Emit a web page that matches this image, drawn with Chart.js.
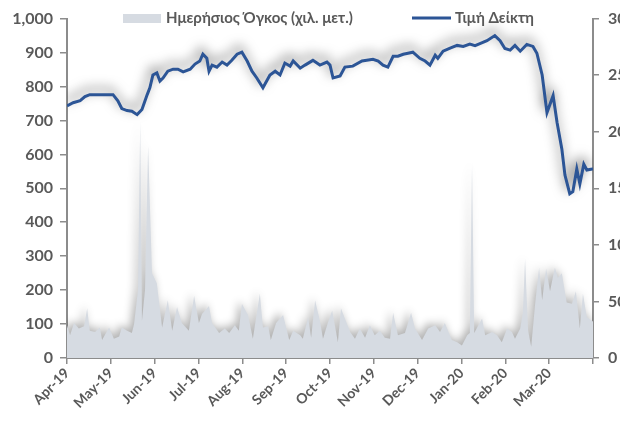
<!DOCTYPE html>
<html>
<head>
<meta charset="utf-8">
<script src="https://cdn.jsdelivr.net/npm/chart.js@4.4.0/dist/chart.umd.min.js"></script>
<style>
  html, body { margin: 0; padding: 0; background: #fff; }
  #chart { display: block; }
</style>
</head>
<body>
<canvas id="chart" width="620" height="421"></canvas>
<script>
// month labels, one per tick (x measured in months since Apr-19)
const monthLabels = ["Apr-19", "May-19", "Jun-19", "Jul-19", "Aug-19", "Sep-19",
  "Oct-19", "Nov-19", "Dec-19", "Jan-20", "Feb-20", "Mar-20", ""];

// index price (left axis)
const priceMonths = [0.00, 0.14, 0.30, 0.41, 0.52, 0.75, 1.05, 1.16, 1.25, 1.37, 1.48, 1.60, 1.71,
  1.83, 1.89, 1.96, 2.05, 2.12, 2.19, 2.30, 2.42, 2.53, 2.65, 2.81, 2.92, 3.03, 3.10, 3.19, 3.24,
  3.31, 3.42, 3.54, 3.65, 3.76, 3.88, 3.99, 4.11, 4.22, 4.33, 4.47, 4.63, 4.75, 4.86, 4.97, 5.09,
  5.16, 5.32, 5.43, 5.61, 5.77, 5.93, 6.00, 6.07, 6.23, 6.34, 6.52, 6.73, 6.98, 7.10, 7.21, 7.32,
  7.44, 7.55, 7.67, 7.78, 7.89, 8.05, 8.17, 8.28, 8.40, 8.46, 8.58, 8.74, 8.90, 9.04, 9.19, 9.31,
  9.42, 9.58, 9.76, 9.88, 9.99, 10.11, 10.22, 10.34, 10.49, 10.63, 10.72, 10.84, 10.95, 11.09,
  11.18, 11.29, 11.36, 11.47, 11.54, 11.63, 11.70, 11.79, 11.86, 11.98, 12.00];
const priceValues = [743, 752, 758, 770, 776, 776, 776, 758, 735, 729, 727, 717, 732,
  776, 796, 834, 840, 816, 825, 845, 851, 851, 843, 851, 866, 875, 895, 883, 845,
  863, 857, 872, 863, 877, 895, 901, 875, 845, 825, 796, 834, 845, 834, 869, 860,
  875, 854, 863, 877, 863, 872, 863, 825, 831, 857, 860, 875, 880, 875, 863, 857,
  889, 889, 895, 898, 901, 883, 875, 863, 892, 883, 904, 913, 921, 918, 925, 920,
  926, 935, 950, 935, 912, 907, 921, 904, 924, 918, 898, 834, 723, 773,
  694, 615, 539, 484, 490, 557, 513, 571, 554, 557, 558];

// daily volume, thousand metres (right axis)
const volumeMonths = [0.00, 0.07, 0.16, 0.27, 0.39, 0.46, 0.52, 0.64, 0.75, 0.80, 0.96, 1.07, 1.19,
  1.25, 1.37, 1.48, 1.53, 1.62, 1.67, 1.71, 1.78, 1.85, 1.94, 2.05, 2.17, 2.30, 2.40, 2.51, 2.62,
  2.78, 2.90, 3.01, 3.08, 3.24, 3.31, 3.47, 3.60, 3.70, 3.83, 3.92, 3.99, 4.13, 4.24, 4.40, 4.47,
  4.59, 4.65, 4.77, 4.93, 5.07, 5.16, 5.32, 5.38, 5.50, 5.57, 5.66, 5.77, 5.84, 5.95, 6.05, 6.18,
  6.25, 6.34, 6.46, 6.57, 6.68, 6.80, 6.91, 7.02, 7.14, 7.25, 7.37, 7.44, 7.55, 7.71, 7.85, 7.94,
  8.10, 8.24, 8.40, 8.51, 8.62, 8.78, 8.90, 9.01, 9.13, 9.19, 9.24, 9.29, 9.47, 9.54, 9.70, 9.81,
  9.92, 10.04, 10.15, 10.22, 10.34, 10.40, 10.45, 10.52, 10.59, 10.68, 10.77, 10.84, 10.93, 11.02,
  11.13, 11.20, 11.29, 11.40, 11.52, 11.61, 11.70, 11.77, 11.86, 11.98, 12.00];
const volumeValues = [29, 20, 31, 26, 28, 44, 24, 23, 27, 16, 27, 17, 19,
  27, 24, 22, 30, 60, 210, 33, 60, 188, 75, 66, 27, 51, 24, 45, 31,
  24, 55, 31, 39, 46, 31, 22, 26, 22, 29, 24, 48, 38, 17, 57, 27,
  28, 16, 31, 38, 16, 24, 20, 17, 36, 18, 51, 33, 17, 31, 42, 14,
  44, 35, 23, 17, 26, 18, 29, 20, 24, 18, 17, 40, 20, 22, 40, 26,
  16, 26, 29, 23, 31, 16, 14, 11, 20, 22, 173, 22, 35, 20, 23, 20,
  14, 26, 23, 17, 26, 40, 88, 24, 10, 48, 80, 51, 79, 59,
  80, 71, 75, 49, 48, 59, 26, 57, 36, 33, 32];

const volumeLabel = "Ημερήσιος Όγκος (χιλ. μετ.)";
const priceLabel = "Τιμή Δείκτη";

const FONT = 'Lato, "Open Sans", "Noto Sans", sans-serif';
const GREY_TEXT = "#595959";
const AXIS = "#8c8c8c";
const LINE_BLUE = "#2c5596";
const AREA_GREY = "#d6dbe2";

// soft drop shadow like the office chart; set before the filler runs
const shadowPlugin = {
  id: "shadow",
  beforeDatasetsDraw(chart) {
    const c = chart.ctx;
    c.shadowColor = "rgba(0,0,0,0.3)";
    c.shadowBlur = 8;
    c.shadowOffsetX = -3;
    c.shadowOffsetY = -3;
  },
  beforeDatasetDraw(chart, args) {
    if (args.index !== 0) return;
    const c = chart.ctx;
    c.shadowColor = "rgba(0,0,0,0.6)";
    c.shadowBlur = 12;
    c.shadowOffsetX = -2;
    c.shadowOffsetY = -5;
  },
  afterDatasetsDraw(chart) {
    const c = chart.ctx;
    c.shadowColor = "rgba(0,0,0,0)";
    c.shadowBlur = 0;
    c.shadowOffsetX = 0;
    c.shadowOffsetY = 0;
  }
};

// legend drawn over the top of the plot
const legendPlugin = {
  id: "topLegend",
  afterDraw(chart) {
    const c = chart.ctx;
    c.save();
    c.font = "bold 15px " + FONT;
    c.textBaseline = "middle";
    c.fillStyle = AREA_GREY;
    c.fillRect(123, 14, 38, 9);
    c.fillStyle = GREY_TEXT;
    c.fillText(volumeLabel, 166, 18);
    c.strokeStyle = LINE_BLUE;
    c.lineWidth = 3;
    c.beginPath();
    c.moveTo(412, 18);
    c.lineTo(451, 18);
    c.stroke();
    c.fillText(priceLabel, 455, 18);
    c.restore();
  }
};

const ctx = document.getElementById("chart").getContext("2d");

const chart = new Chart(ctx, {
  type: "line",
  data: {
    datasets: [
      {
        label: priceLabel,
        data: priceMonths.map((m, i) => ({ x: m, y: priceValues[i] })),
        yAxisID: "y",
        borderColor: LINE_BLUE,
        borderWidth: 3,
        pointRadius: 0,
        tension: 0,
        fill: false,
        order: 0
      },
      {
        label: volumeLabel,
        data: volumeMonths.map((m, i) => ({ x: m, y: volumeValues[i] })),
        yAxisID: "y1",
        borderWidth: 0,
        borderColor: AREA_GREY,
        backgroundColor: AREA_GREY,
        pointRadius: 0,
        tension: 0,
        fill: "origin",
        order: 1
      }
    ]
  },
  options: {
    responsive: false,
    animation: false,
    layout: { padding: { top: 15, left: 0, right: 0, bottom: 0 } },
    plugins: {
      legend: { display: false },
      tooltip: { enabled: false }
    },
    scales: {
      x: {
        type: "linear",
        min: 0,
        max: 12,
        afterFit(scale) { scale.height = 63; },
        afterBuildTicks(scale) {
          scale.ticks = monthLabels.map((l, i) => ({ value: i }));
        },
        ticks: {
          autoSkip: false,
          minRotation: 45,
          maxRotation: 45,
          padding: 1,
          color: GREY_TEXT,
          font: { family: FONT, size: 14, weight: "bold" },
          callback: (v) => monthLabels[v]
        },
        grid: { drawOnChartArea: false, color: AXIS, tickLength: 6, lineWidth: 1.5 },
        border: { color: AXIS, width: 2 }
      },
      y: {
        position: "left",
        min: 0,
        max: 1000,
        afterFit(scale) { scale.width = 67; },
        ticks: {
          stepSize: 100,
          padding: 7,
          color: GREY_TEXT,
          font: { family: FONT, size: 16, weight: "bold" },
          callback: (v) => v.toLocaleString("en-US")
        },
        grid: { drawOnChartArea: false, color: AXIS, tickLength: 7, lineWidth: 1.5 },
        border: { color: AXIS, width: 2 }
      },
      y1: {
        position: "right",
        min: 0,
        max: 300,
        afterFit(scale) { scale.width = 27; },
        ticks: {
          stepSize: 50,
          padding: 9,
          color: GREY_TEXT,
          font: { family: FONT, size: 16, weight: "bold" },
          callback: (v) => v.toLocaleString("en-US")
        },
        grid: { drawOnChartArea: false, color: AXIS, tickLength: 6, lineWidth: 1.5 },
        border: { color: AXIS, width: 2 }
      }
    }
  },
  plugins: [shadowPlugin, legendPlugin]
});
</script>
</body>
</html>
